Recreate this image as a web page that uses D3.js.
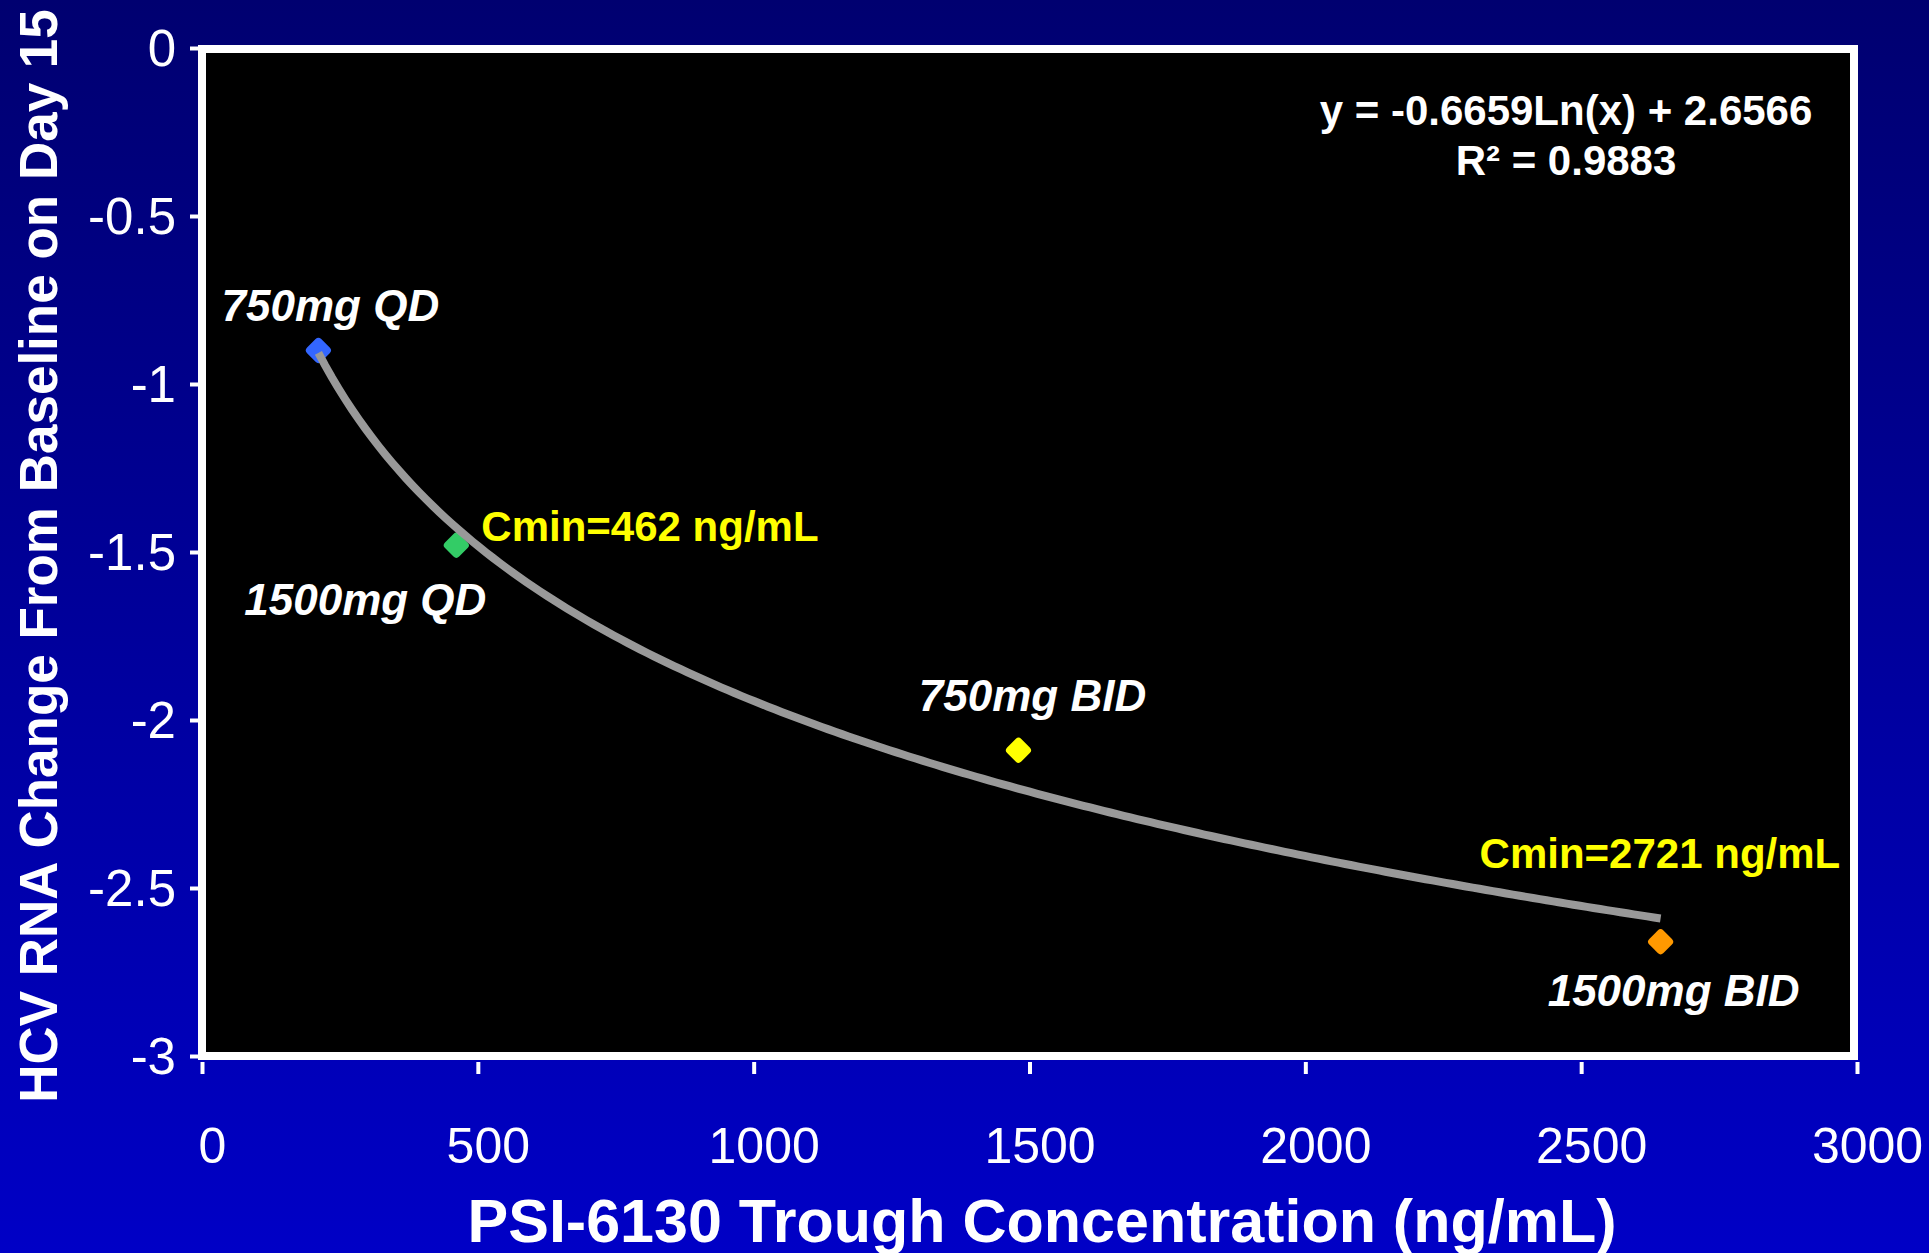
<!DOCTYPE html>
<html>
<head>
<meta charset="utf-8">
<script src="https://cdn.jsdelivr.net/npm/d3@7"></script>
<style>
  html, body { margin: 0; padding: 0; background: #0000a0; }
  svg { display: block; font-family: "Liberation Sans", Arial, sans-serif; }
</style>
</head>
<body>
<script>
// data
const doses = ['750mg QD', '1500mg QD', '750mg BID', '1500mg BID'];
const trough = [211, 461, 1480, 2644];          // ng/mL
const hcvChange = [-0.90, -1.48, -2.09, -2.66]; // log10 change
const pointColors = ['#3366ff', '#33cc66', '#ffff00', '#ff9900'];
const xTicks = [0, 500, 1000, 1500, 2000, 2500, 3000];
const yTicks = [0, -0.5, -1, -1.5, -2, -2.5, -3];
const fitSlope = -0.6659;
const fitIntercept = 2.6566;
const fitR2 = '0.9883';
const cminNotes = [
    { idx: 1, text: 'Cmin=462 ng/mL' },
    { idx: 3, text: 'Cmin=2721 ng/mL' }
];

const W = 1929, H = 1253;

const svg = d3.select('body').append('svg')
    .attr('width', W)
    .attr('height', H);

// background gradient
const grad = svg.append('defs').append('linearGradient')
    .attr('id', 'bg')
    .attr('x1', 0).attr('y1', 0).attr('x2', 0).attr('y2', 1);
grad.append('stop').attr('offset', '0%').attr('stop-color', '#000070');
grad.append('stop').attr('offset', '100%').attr('stop-color', '#0000c6');
svg.append('rect').attr('width', W).attr('height', H).attr('fill', 'url(#bg)');

const x = d3.scaleLinear().domain([0, 3000]).range([202, 1857]);
const y = d3.scaleLinear().domain([-3, 0]).range([1056, 48]);

// plot area
svg.append('rect')
    .attr('x', x(0))
    .attr('y', y(0) + 1)
    .attr('width', 1854 - x(0))
    .attr('height', y(-3) - y(0) - 1)
    .attr('fill', '#000')
    .attr('stroke', '#fff')
    .attr('stroke-width', 8);

// axes (plain hyphen for the minus, like the source)
const yAxis = svg.append('g')
    .attr('transform', 'translate(198,0)')
    .call(d3.axisLeft(y).tickValues(yTicks).tickSize(8).tickPadding(14)
        .tickFormat(d => String(d)));
yAxis.select('.domain').remove();
yAxis.selectAll('line').attr('stroke', '#fff').attr('stroke-width', 4);
yAxis.selectAll('text')
    .attr('fill', '#fff')
    .style('font-size', '51px')
    .attr('dy', '0.35em');

const xAxis = svg.append('g')
    .attr('transform', 'translate(0,1062)')
    .call(d3.axisBottom(x).tickValues(xTicks).tickSize(12).tickFormat(d => String(d)));
xAxis.select('.domain').remove();
xAxis.selectAll('line').attr('stroke', '#fff').attr('stroke-width', 4);
xAxis.selectAll('text')
    .attr('fill', '#fff')
    .style('font-size', '50px')
    .attr('x', 10)
    .attr('y', 101)
    .attr('dy', 0);

// axis titles
svg.append('text')
    .attr('x', 1042)
    .attr('y', 1242)
    .attr('text-anchor', 'middle')
    .attr('fill', '#fff')
    .style('font-size', '61px')
    .style('font-weight', 'bold')
    .text('PSI-6130 Trough Concentration (ng/mL)');

svg.append('text')
    .attr('transform', 'translate(57,556) rotate(-90)')
    .attr('text-anchor', 'middle')
    .attr('fill', '#fff')
    .style('font-size', '53px')
    .style('font-weight', 'bold')
    .text('HCV RNA Change From Baseline on Day 15');

// points
const pts = doses.map((d, i) => ({ dose: d, x: trough[i], y: hcvChange[i], c: pointColors[i] }));

svg.append('g').selectAll('rect')
    .data(pts)
    .enter().append('rect')
    .attr('x', -10).attr('y', -10)
    .attr('width', 20).attr('height', 20)
    .attr('rx', 4)
    .attr('transform', d => `translate(${x(d.x)},${y(d.y)}) rotate(45)`)
    .attr('fill', d => d.c);

// log fit line, drawn over the markers as in the source
const xs = d3.range(0, 201).map(k => trough[0] + (trough[3] - trough[0]) * k / 200);
const fitLine = d3.line()
    .x(v => x(v))
    .y(v => y(fitSlope * Math.log(v) + fitIntercept));
svg.append('path')
    .datum(xs)
    .attr('d', fitLine)
    .attr('fill', 'none')
    .attr('stroke', '#999')
    .attr('stroke-width', 8);

// dose labels
const labelOffsets = [[12, -29], [-91, 70], [14, -39], [13, 64]];
svg.append('g').selectAll('text')
    .data(pts)
    .enter().append('text')
    .attr('x', (d, i) => x(d.x) + labelOffsets[i][0])
    .attr('y', (d, i) => y(d.y) + labelOffsets[i][1])
    .attr('text-anchor', 'middle')
    .attr('fill', '#fff')
    .style('font-size', '44px')
    .style('font-weight', 'bold')
    .style('font-style', 'italic')
    .text(d => d.dose);

// Cmin notes
const cminOffsets = [[25, -4], [-181, -74]];
svg.append('g').selectAll('text')
    .data(cminNotes)
    .enter().append('text')
    .attr('x', (d, i) => x(pts[d.idx].x) + cminOffsets[i][0])
    .attr('y', (d, i) => y(pts[d.idx].y) + cminOffsets[i][1])
    .attr('fill', '#ffff00')
    .style('font-size', '42px')
    .style('font-weight', 'bold')
    .text(d => d.text);

// equation
const eq = svg.append('text')
    .attr('text-anchor', 'middle')
    .attr('fill', '#fff')
    .style('font-size', '42px')
    .style('font-weight', 'bold');
eq.append('tspan').attr('x', 1566).attr('y', 125)
    .text(`y = ${fitSlope}Ln(x) + ${fitIntercept}`);
eq.append('tspan').attr('x', 1566).attr('y', 175)
    .text(`R\u00b2 = ${fitR2}`);
</script>
</body>
</html>
